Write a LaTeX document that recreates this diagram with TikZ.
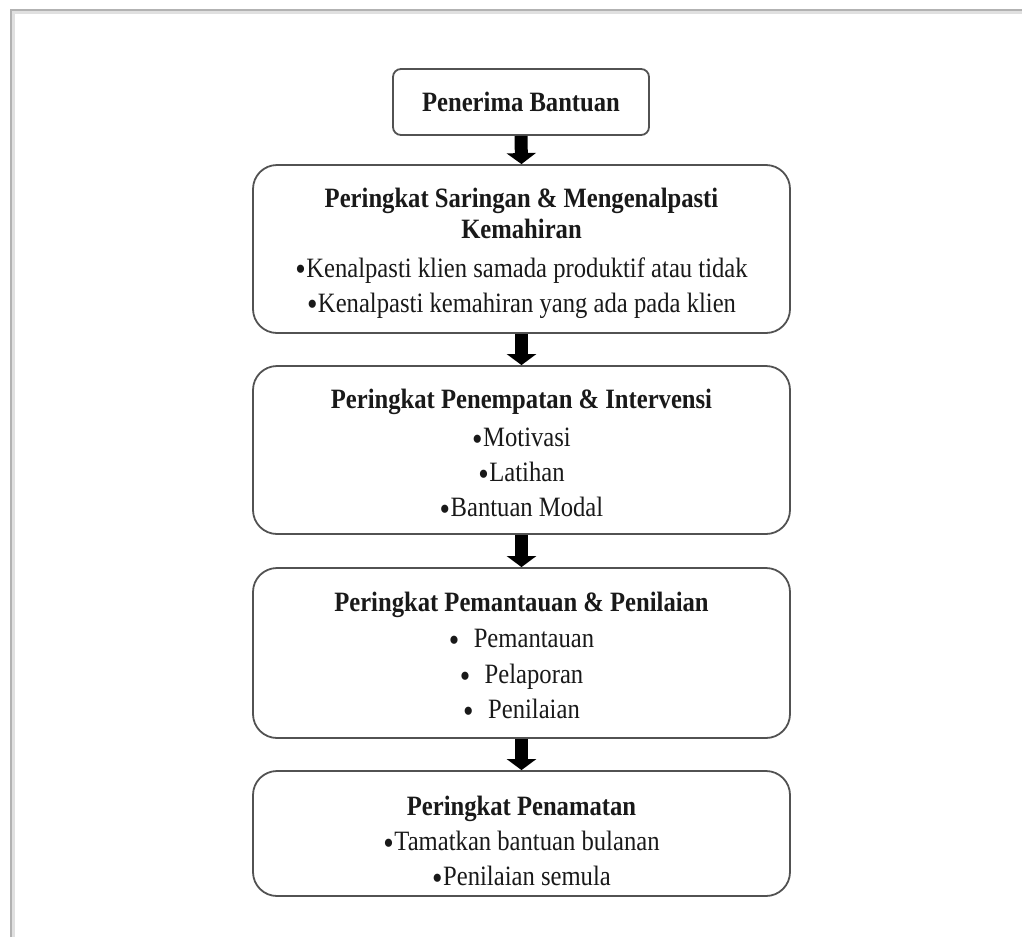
\documentclass[tikz,border=0pt]{standalone}
\usepackage{fontspec}
\setmainfont{Liberation Serif}[FakeStretch=0.88]
\usetikzlibrary{arrows.meta}
\newcommand{\bul}{\raisebox{-3.5pt}{\fontsize{34}{34}\selectfont\textbullet}\kern0.5pt}
\begin{document}
\begin{tikzpicture}[x=1pt,y=-1pt,
  stage/.style={draw=black!68, line width=1.8pt, rounded corners=24pt,
    minimum width=537pt, inner sep=0pt, align=center, text=black!90,
    font=\fontsize{28}{35}\selectfont},
  flow/.style={line width=13pt, black, -{Triangle[width=29pt,length=11pt]}}]
\useasboundingbox (0,0) rectangle (1022,937);
\draw[black!12, line width=4pt] (13,937) -- (13,12) -- (1022,12);
\draw[black!30, line width=1.5pt] (11,937) -- (11,10) -- (1022,10);
\node[stage, rounded corners=8pt, minimum width=256pt, minimum height=66pt] (b1) at (521,102)
  {\textbf{Penerima Bantuan}};
\node[stage, minimum height=168pt] (b2) at (521.5,249)
  {\rule{0pt}{28pt}\textbf{Peringkat Saringan \& Mengenalpasti}\\[-4pt]
   \textbf{Kemahiran}\\[4pt]
   \bul Kenalpasti klien samada produktif atau tidak\\
   \bul Kenalpasti kemahiran yang ada pada klien};
\node[stage, minimum height=168pt] (b3) at (521.5,450)
  {\rule{0pt}{29pt}\textbf{Peringkat Penempatan \& Intervensi}\\[3pt]
   \bul Motivasi\\
   \bul Latihan\\
   \bul Bantuan Modal};
\node[stage, minimum height=170pt] (b4) at (521.5,653)
  {\rule{0pt}{27pt}\textbf{Peringkat Pemantauan \& Penilaian}\\[1.5pt]
   \bul\hspace{14pt}Pemantauan\\[1pt]
   \bul\hspace{14pt}Pelaporan\\
   \bul\hspace{14pt}Penilaian};
\node[stage, minimum height=125pt] (b5) at (521.5,833.5)
  {\rule{0pt}{38pt}\textbf{Peringkat Penamatan}\\
   \bul Tamatkan bantuan bulanan\\
   \bul Penilaian semula};
\draw[flow] (b1.south) -- (b2.north);
\draw[flow] (b2.south) -- (b3.north);
\draw[flow] (b3.south) -- (b4.north);
\draw[flow] (b4.south) -- (b5.north);
\end{tikzpicture}
\end{document}
